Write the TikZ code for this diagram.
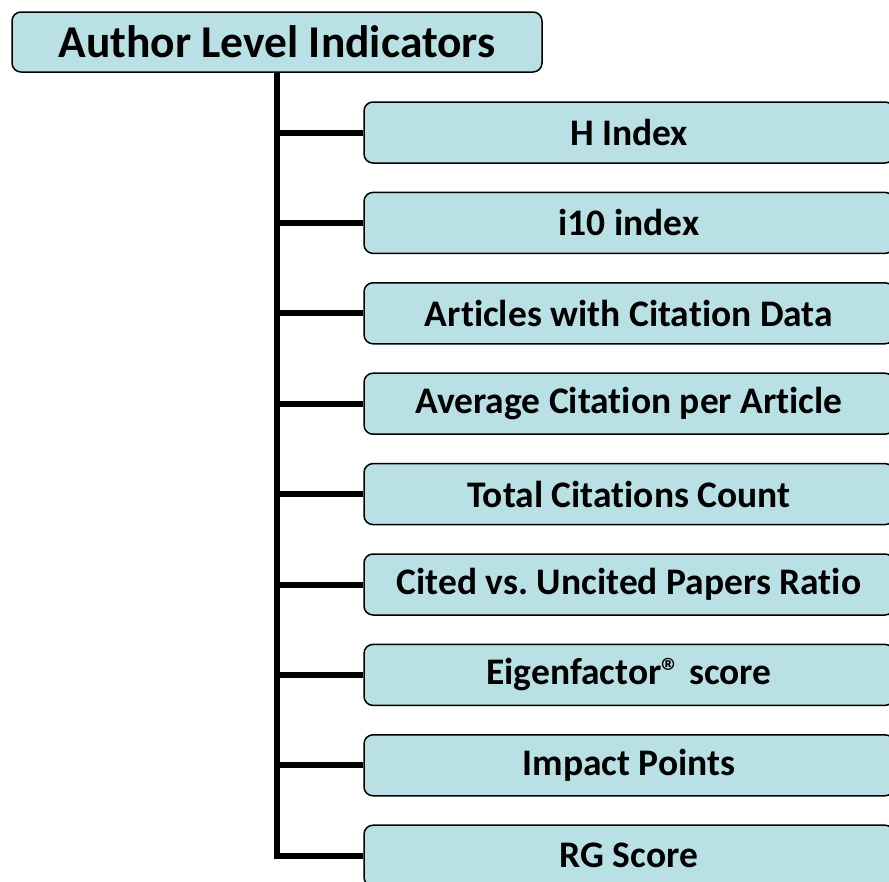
\documentclass[tikz,border=0pt]{standalone}
\usepackage{fontspec}
\setmainfont{Carlito}[Ligatures={NoCommon}]
\frenchspacing
\usetikzlibrary{positioning}
\definecolor{boxfill}{RGB}{185,224,228}
\tikzset{
    topbox/.style={draw=black, line width=1.5pt, fill=boxfill, rounded corners=9pt,
        minimum width=530pt, minimum height=60pt, font=\fontsize{45.5}{52}\selectfont\bfseries},
    subbox/.style={draw=black, line width=1.5pt, fill=boxfill, rounded corners=9pt,
        minimum width=530pt, minimum height=61pt, font=\fontsize{37.5}{44}\selectfont\bfseries},
    link/.style={line width=6pt, line join=miter}
}
\begin{document}
\begin{tikzpicture}[x=1pt, y=-1pt]
    \useasboundingbox (0,0) rectangle (889,881);
    \clip (0,0) rectangle (889,881);
    \node[topbox] (ali) at (277,42) {Author Level Indicators};
    \foreach \name/\txt [count=\i from 0] in {hidx/H Index, iten/i10 index,
        acd/Articles with Citation Data, acpa/Average Citation per Article,
        tcc/Total Citations Count, cur/Cited vs. Uncited Papers Ratio,
        eig/Eigenfactor® score, ipt/Impact Points, rgs/RG Score}
    {
        \node[subbox] (\name) at (629, 132.5+90.4*\i) {\txt};
        \draw[link] (ali.south |- \name.west) -- (\name.west);
    }
    \draw[link] (ali.south) -- (ali.south |- rgs.west) -- (rgs.west);
\end{tikzpicture}
\end{document}
